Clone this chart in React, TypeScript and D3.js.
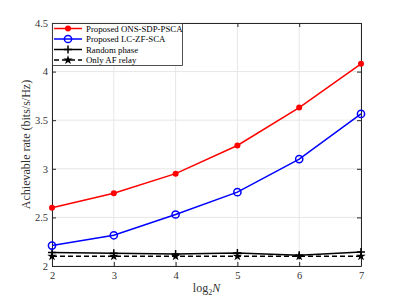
import { useRef, useEffect } from 'react'
import * as d3 from 'd3'

const W = 399
const H = 299
const MARGIN = { top: 23, right: 38, bottom: 33, left: 52 }

const xVals = [2, 3, 4, 5, 6, 7]
const yTicks = [2, 2.5, 3, 3.5, 4, 4.5]
const onsSdp = [2.6, 2.748, 2.95, 3.24, 3.63, 4.08]
const lcZf = [2.21, 2.316, 2.53, 2.76, 3.1, 3.565]
const randomPhase = [2.138, 2.132, 2.124, 2.134, 2.11, 2.144]
const afRelay = [2.1, 2.1, 2.1, 2.1, 2.1, 2.1]

const seriesNames = ['Proposed ONS-SDP-PSCA', 'Proposed LC-ZF-SCA', 'Random phase', 'Only AF relay']

type Marker = 'dot' | 'circle' | 'plus' | 'star'
interface Series {
  name: string
  values: number[]
  color: string
  dash: string | null
  marker: Marker
}

const series: Series[] = [
  { name: seriesNames[0], values: onsSdp, color: '#ff0000', dash: null, marker: 'dot' },
  { name: seriesNames[1], values: lcZf, color: '#0000ff', dash: null, marker: 'circle' },
  { name: seriesNames[2], values: randomPhase, color: '#000000', dash: null, marker: 'plus' },
  { name: seriesNames[3], values: afRelay, color: '#000000', dash: '5,3', marker: 'star' },
]

const FONT = 'Liberation Serif, serif'

function drawMarker(g: d3.Selection<SVGGElement, unknown, null, undefined>, m: Marker, cx: number, cy: number, color: string) {
  if (m === 'dot') {
    g.append('circle').attr('cx', cx).attr('cy', cy).attr('r', 3).attr('fill', color)
  } else if (m === 'circle') {
    g.append('circle').attr('cx', cx).attr('cy', cy).attr('r', 3.6).attr('fill', 'none')
      .attr('stroke', color).attr('stroke-width', 1.5)
  } else if (m === 'plus') {
    const s = 4
    g.append('path').attr('d', `M${cx - s},${cy}H${cx + s}M${cx},${cy - s}V${cy + s}`)
      .attr('stroke', color).attr('stroke-width', 1.5)
  } else {
    g.append('path').attr('d', d3.symbol(d3.symbolStar, 28)()!)
      .attr('transform', `translate(${cx},${cy})`).attr('fill', color)
  }
}

export default function App() {
  const svgRef = useRef<SVGSVGElement>(null)

  useEffect(() => {
    if (!svgRef.current) return
    const el = d3.select(svgRef.current)
    el.selectAll('*').remove()

    const innerW = W - MARGIN.left - MARGIN.right
    const innerH = H - MARGIN.top - MARGIN.bottom
    const x = d3.scaleLinear().domain([2, 7]).range([0, innerW])
    const y = d3.scaleLinear().domain([2, 4.5]).range([innerH, 0])

    el.append('rect').attr('width', W).attr('height', H).attr('fill', '#fff')
    const svg = el.append('g').attr('transform', `translate(${MARGIN.left},${MARGIN.top})`)

    // Grid
    svg.append('g').selectAll('line').data(xVals).join('line')
      .attr('x1', (d) => x(d)).attr('x2', (d) => x(d)).attr('y1', 0).attr('y2', innerH)
      .attr('stroke', '#e6e6e6').attr('stroke-width', 1)
    svg.append('g').selectAll('line').data(yTicks).join('line')
      .attr('y1', (d) => y(d)).attr('y2', (d) => y(d)).attr('x1', 0).attr('x2', innerW)
      .attr('stroke', '#e6e6e6').attr('stroke-width', 1)

    // Axes (inward ticks, box)
    const axisColor = '#262626'
    const styleAxis = (g: d3.Selection<SVGGElement, unknown, null, undefined>, labels: boolean) => {
      g.attr('font-family', FONT).attr('font-size', 10.5)
      g.select('.domain').attr('stroke', axisColor)
      g.selectAll('.tick line').attr('stroke', axisColor)
      g.selectAll('text').attr('fill', '#333')
      if (!labels) g.selectAll('text').remove()
    }
    svg.append('g').attr('transform', `translate(0,${innerH})`)
      .call(d3.axisBottom(x).tickValues(xVals).tickFormat(d3.format('d')).tickSizeInner(-4).tickSizeOuter(0).tickPadding(6))
      .call((g) => styleAxis(g, true))
    svg.append('g')
      .call(d3.axisTop(x).tickValues(xVals).tickSizeInner(-4).tickSizeOuter(0))
      .call((g) => styleAxis(g, false))
    svg.append('g')
      .call(d3.axisLeft(y).tickValues(yTicks).tickFormat((d) => `${d}`).tickSizeInner(-4).tickSizeOuter(0).tickPadding(4))
      .call((g) => styleAxis(g, true))
    svg.append('g').attr('transform', `translate(${innerW},0)`)
      .call(d3.axisRight(y).tickValues(yTicks).tickSizeInner(-4).tickSizeOuter(0))
      .call((g) => styleAxis(g, false))

    // Lines
    const line = d3.line<number>().x((_, i) => x(xVals[i])).y((d) => y(d))
    series.slice().reverse().forEach((s) => {
      svg.append('path').datum(s.values).attr('fill', 'none').attr('stroke', s.color)
        .attr('stroke-width', 1.5).attr('stroke-dasharray', s.dash).attr('d', line)
      const mg = svg.append('g')
      s.values.forEach((v, i) => drawMarker(mg, s.marker, x(xVals[i]), y(v), s.color))
    })

    // Legend
    const lg = svg.append('g')
    lg.append('rect').attr('x', 0.5).attr('y', 0.5).attr('width', 130).attr('height', 42)
      .attr('fill', '#fff').attr('stroke', axisColor).attr('stroke-width', 0.8)
    series.forEach((s, i) => {
      const ly = 5.5 + i * 10.5
      lg.append('line').attr('x1', 2).attr('x2', 30).attr('y1', ly).attr('y2', ly)
        .attr('stroke', s.color).attr('stroke-width', 1.5).attr('stroke-dasharray', s.dash)
      drawMarker(lg, s.marker, 16, ly, s.color)
      lg.append('text').attr('x', 34).attr('y', ly).attr('dy', '0.35em')
        .attr('font-family', FONT).attr('font-size', 8.8).attr('fill', '#000').text(s.name)
    })

    // Axis labels
    const xl = svg.append('text').attr('x', innerW / 2).attr('y', innerH + 26)
      .attr('text-anchor', 'middle').attr('font-family', FONT).attr('font-size', 12).attr('fill', '#333')
    xl.append('tspan').text('log')
    xl.append('tspan').attr('font-size', 8).attr('dy', 3).text('2')
    xl.append('tspan').attr('dy', -3).attr('font-style', 'italic').text('N')

    svg.append('text').attr('transform', `translate(${-22},${innerH / 2}) rotate(-90)`)
      .attr('text-anchor', 'middle').attr('font-family', FONT).attr('font-size', 12).attr('fill', '#333')
      .text('Achievable rate (bits/s/Hz)')
  }, [])

  return (
    <div style={{ position: 'absolute', left: 0, top: 0 }}>
      <svg ref={svgRef} width={W} height={H} style={{ display: 'block' }} />
    </div>
  )
}
